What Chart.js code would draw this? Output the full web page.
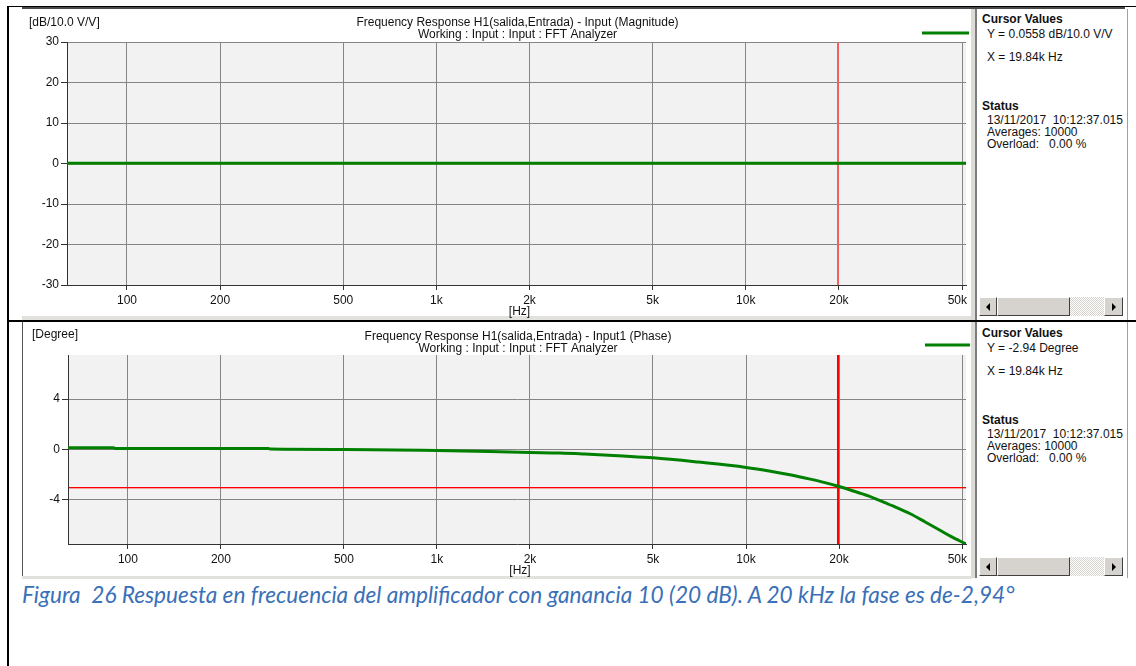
<!DOCTYPE html>
<html>
<head>
<meta charset="utf-8">
<script src="https://cdn.jsdelivr.net/npm/chart.js@4/dist/chart.umd.min.js"></script>
<style>
  html, body { margin: 0; padding: 0; background: #fff; }
  body { position: relative; width: 1136px; height: 666px; overflow: hidden;
         font-family: "Liberation Sans", Arial, sans-serif; font-size: 12px; color: #111; }
  .abs { position: absolute; }
  canvas { position: absolute; }
  .line { position: absolute; background: #000; }
  .txt { position: absolute; white-space: pre; line-height: 14px; font-size: 12px; color: #111; }
  .b { font-weight: bold; }
  .sb { position: absolute; left: 979px; width: 144px; height: 19px; background: #e9e7e3; }
  .btn { position: absolute; top: 0; height: 19px; box-sizing: border-box; background: #d6d3ce;
         border-top: 1px solid #fff; border-left: 1px solid #fff;
         border-right: 1px solid #404040; border-bottom: 1px solid #404040; }
  .track { position: absolute; top: 0; height: 19px;
           background-color: #fff;
           background-image: repeating-conic-gradient(#d6d3ce 0 25%, #fff 0 50%);
           background-size: 2px 2px; }
  .tri-l { position: absolute; left: 6px; top: 5px; width: 0; height: 0;
           border-top: 4px solid transparent; border-bottom: 4px solid transparent; border-right: 4px solid #000; }
  .tri-r { position: absolute; left: 7px; top: 5px; width: 0; height: 0;
           border-top: 4px solid transparent; border-bottom: 4px solid transparent; border-left: 4px solid #000; }
  #caption { position: absolute; left: 22px; top: 581px; white-space: pre;
             font-family: Lato, "Open Sans", sans-serif; font-style: italic; color: #3a70b8; }
</style>
</head>
<body>

<!-- document table frame -->
<div class="line" style="left:7px; top:6px; width:1129px; height:1px;"></div>
<div class="line" style="left:7px; top:6px; width:2px; height:660px;"></div>
<div class="line" style="left:7px; top:320px; width:1129px; height:2px;"></div>

<!-- analyzer window frames -->
<div class="abs" style="left:22px; top:7px; width:1103px; height:2px; background:#4a4a4a;"></div>
<div class="abs" style="left:22px; top:316px; width:950px; height:4px; background:#e2e1de;"></div>
<div class="abs" style="left:22px; top:322px; width:1px; height:256px; background:#555;"></div>
<div class="abs" style="left:22px; top:576px; width:950px; height:3px; background:#e2e1de;"></div>
<div class="abs" style="left:1127px; top:9px; width:1px; height:311px; background:#a0a0a0;"></div>
<div class="abs" style="left:1127px; top:322px; width:1px; height:256px; background:#a0a0a0;"></div>

<canvas id="magChart" width="950" height="310" style="left:22px; top:8px;"></canvas>
<canvas id="phaseChart" width="950" height="256" style="left:22px; top:322px;"></canvas>

<!-- splitters between plot and info panes -->
<div class="abs" style="left:971px; top:9px; width:4px; height:311px; background:#dcdbd8; z-index:2;"></div>
<div class="abs" style="left:975px; top:9px; width:2px; height:311px; background:#7c7c7c; z-index:2;"></div>
<div class="abs" style="left:971px; top:322px; width:4px; height:256px; background:#dcdbd8; z-index:2;"></div>
<div class="abs" style="left:975px; top:322px; width:2px; height:256px; background:#7c7c7c; z-index:2;"></div>

<!-- info pane: magnitude -->
<div class="txt b" style="left:982px; top:12px;">Cursor Values</div>
<div class="txt" style="left:987px; top:27px;">Y = 0.0558 dB/10.0 V/V</div>
<div class="txt" style="left:987px; top:50px;">X = 19.84k Hz</div>
<div class="txt b" style="left:982px; top:99px;">Status</div>
<div class="txt" style="left:987px; top:113px;">13/11/2017  10:12:37.015</div>
<div class="txt" style="left:987px; top:125px;">Averages: 10000</div>
<div class="txt" style="left:987px; top:137px;">Overload:   0.00 %</div>

<!-- info pane: phase -->
<div class="txt b" style="left:982px; top:326px;">Cursor Values</div>
<div class="txt" style="left:987px; top:341px;">Y = -2.94 Degree</div>
<div class="txt" style="left:987px; top:364px;">X = 19.84k Hz</div>
<div class="txt b" style="left:982px; top:413px;">Status</div>
<div class="txt" style="left:987px; top:427px;">13/11/2017  10:12:37.015</div>
<div class="txt" style="left:987px; top:439px;">Averages: 10000</div>
<div class="txt" style="left:987px; top:451px;">Overload:   0.00 %</div>

<!-- scrollbars -->
<div class="sb" style="top:297px;">
  <div class="btn" style="left:0; width:18px;"><div class="tri-l"></div></div>
  <div class="btn" style="left:18px; width:73px;"></div>
  <div class="track" style="left:91px; width:34px;"></div>
  <div class="btn" style="left:125px; width:19px;"><div class="tri-r"></div></div>
</div>
<div class="sb" style="top:557px;">
  <div class="btn" style="left:0; width:18px;"><div class="tri-l"></div></div>
  <div class="btn" style="left:18px; width:73px;"></div>
  <div class="track" style="left:91px; width:34px;"></div>
  <div class="btn" style="left:125px; width:19px;"><div class="tri-r"></div></div>
</div>

<div id="caption">Figura  26 Respuesta en frecuencia del amplificador con ganancia 10 (20 dB). A 20 kHz la fase es de-2,94°</div>

<script>
// Frequency axis ticks (Hz) and their labels
const tickFreqs = [100, 200, 500, 1000, 2000, 5000, 10000, 20000, 50000];
const tickLabels = ['100', '200', '500', '1k', '2k', '5k', '10k', '20k', '50k'];

// Magnitude trace (dB re 10.0 V/V)
const magFreqs = [64, 100, 1000, 10000, 51500];
const magDb    = [0.0558, 0.0558, 0.0558, 0.0558, 0.0558];
const magTicks = [-30, -20, -10, 0, 10, 20, 30];

// Phase trace (degrees)
const phaseFreqs = [64, 90, 91, 200, 285, 290, 500, 1000, 2000, 2500, 3000, 4000, 5000, 7000, 10000,
                    12000, 14000, 16000, 18000, 20000, 22000, 25000, 28000, 30000, 34000, 38000, 42000, 46000, 51500];
const phaseDeg   = [0.14, 0.14, 0.08, 0.07, 0.07, 0.03, 0.0, -0.08, -0.24, -0.28, -0.36, -0.52, -0.66, -1.00, -1.42,
                    -1.72, -2.02, -2.33, -2.63, -2.94, -3.25, -3.70, -4.20, -4.50, -5.10, -5.75, -6.35, -6.90, -7.50];
const phaseTicks = [-4, 0, 4];

// Cursor readout
const cursorFreq  = 19840;
const cursorMag   = 0.0558;
const cursorPhase = -2.94;

const FONT = '"Liberation Sans", Arial, sans-serif';
const TRACE = '#008000';

// Plot background, cursor cross-hair, frequency labels, header texts and trace key
const panelDecor = {
  id: 'panelDecor',
  beforeDraw(chart, args, o) {
    const { ctx, chartArea: a } = chart;
    ctx.save();
    ctx.fillStyle = '#f2f2f2';
    ctx.fillRect(a.left, a.top, a.right - a.left, a.bottom - a.top);
    ctx.restore();
  },
  beforeDatasetsDraw(chart, args, o) {
    const { ctx, chartArea: a, scales: { x, y } } = chart;
    ctx.save();
    ctx.fillStyle = o.cursorColor;
    const cx = Math.round(x.getPixelForValue(o.cursorX));
    ctx.fillRect(cx - 1, a.top, 2, a.bottom - a.top);
    const cy = Math.round(y.getPixelForValue(o.cursorY));
    ctx.fillRect(a.left + 1, cy, a.right - a.left - 1, 1);
    ctx.globalAlpha = 0.35;
    ctx.fillRect(a.left + 1, cy + 1, a.right - a.left - 1, 1);
    ctx.restore();
  },
  afterDraw(chart, args, o) {
    const { ctx, chartArea: a, scales: { x } } = chart;
    ctx.save();
    ctx.fillStyle = '#111';
    ctx.font = '12px ' + FONT;
    ctx.textBaseline = 'alphabetic';

    // frequency tick labels, kept inside the plot's right edge
    ctx.textAlign = 'left';
    tickFreqs.forEach((f, i) => {
      const label = tickLabels[i];
      const w = ctx.measureText(label).width;
      let px = x.getPixelForValue(f) - w / 2;
      px = Math.min(px, a.right + 1 - w);
      ctx.fillText(label, px, a.bottom + 19);
    });

    ctx.fillText(o.unit, o.unitX, o.unitY);
    ctx.textAlign = 'center';
    const mid = (a.left + a.right) / 2 + 1;
    ctx.fillText(o.title[0], mid, o.titleY);
    ctx.fillText(o.title[1], mid, o.titleY + 12);
    ctx.fillText('[Hz]', mid + 2, o.hzY);

    ctx.strokeStyle = chart.data.datasets[0].borderColor;
    ctx.lineWidth = 3;
    ctx.beginPath();
    ctx.moveTo(o.keyX0, o.keyY); ctx.lineTo(o.keyX1, o.keyY);
    ctx.stroke();
    ctx.restore();
  }
};

function makeChart(id, freqs, values, yMin, yMax, yTicks, area, decor) {
  const canvas = document.getElementById(id);
  const W = canvas.width, H = canvas.height;
  return new Chart(canvas, {
    type: 'line',
    data: {
      datasets: [{
        data: freqs.map((f, i) => ({ x: f, y: values[i] })),
        borderColor: TRACE,
        borderWidth: 3,
        pointRadius: 0,
        cubicInterpolationMode: 'monotone',
        fill: false
      }]
    },
    options: {
      responsive: false,
      animation: false,
      devicePixelRatio: 1,
      layout: { padding: { left: 0, top: area.top, right: W - area.right, bottom: 0 } },
      plugins: {
        legend: { display: false },
        tooltip: { enabled: false },
        title: { display: false },
        panelDecor: decor
      },
      scales: {
        x: {
          type: 'logarithmic',
          min: 64,
          max: 51500,
          afterBuildTicks: s => { s.ticks = tickFreqs.map(v => ({ value: v })); },
          afterFit: s => { s.height = H - area.bottom; },
          ticks: { display: false, autoSkip: false, maxRotation: 0, minRotation: 0 },
          grid: { color: '#858585', lineWidth: 1, tickLength: 5, tickColor: '#333' },
          border: { color: '#333', width: 1 }
        },
        y: {
          min: yMin,
          max: yMax,
          afterBuildTicks: s => { s.ticks = yTicks.map(v => ({ value: v })); },
          afterFit: s => { s.width = area.left; },
          ticks: {
            padding: 2, color: '#111', font: { family: FONT, size: 12 },
            callback: v => String(v)
          },
          grid: { color: '#858585', lineWidth: 1, tickLength: 6, tickColor: '#333' },
          border: { color: '#333', width: 1 }
        }
      }
    },
    plugins: [panelDecor]
  });
}

makeChart('magChart', magFreqs, magDb, -30, 30, magTicks,
  { left: 45, top: 34, right: 944, bottom: 277 },
  { unit: '[dB/10.0 V/V]', unitX: 7, unitY: 18,
    title: ['Frequency Response H1(salida,Entrada) - Input (Magnitude)', 'Working : Input : Input : FFT Analyzer'],
    titleY: 18, hzY: 307, keyX0: 900, keyX1: 947, keyY: 25,
    cursorX: cursorFreq, cursorY: cursorMag, cursorColor: '#f06060' });

makeChart('phaseChart', phaseFreqs, phaseDeg, -7.5, 7.5, phaseTicks,
  { left: 46, top: 33, right: 944, bottom: 222 },
  { unit: '[Degree]', unitX: 10, unitY: 16,
    title: ['Frequency Response H1(salida,Entrada) - Input1 (Phase)', 'Working : Input : Input : FFT Analyzer'],
    titleY: 18, hzY: 252, keyX0: 903, keyX1: 948, keyY: 23,
    cursorX: cursorFreq, cursorY: cursorPhase, cursorColor: '#ff0000' });

// Size the caption so it spans its line
(function fitCaption() {
  const cap = document.getElementById('caption');
  const target = 993;
  let size = 20;
  cap.style.fontSize = size + 'px';
  const w = cap.getBoundingClientRect().width;
  if (w > 0) {
    size = size * target / w;
    cap.style.fontSize = size.toFixed(2) + 'px';
  }
})();
</script>
</body>
</html>
